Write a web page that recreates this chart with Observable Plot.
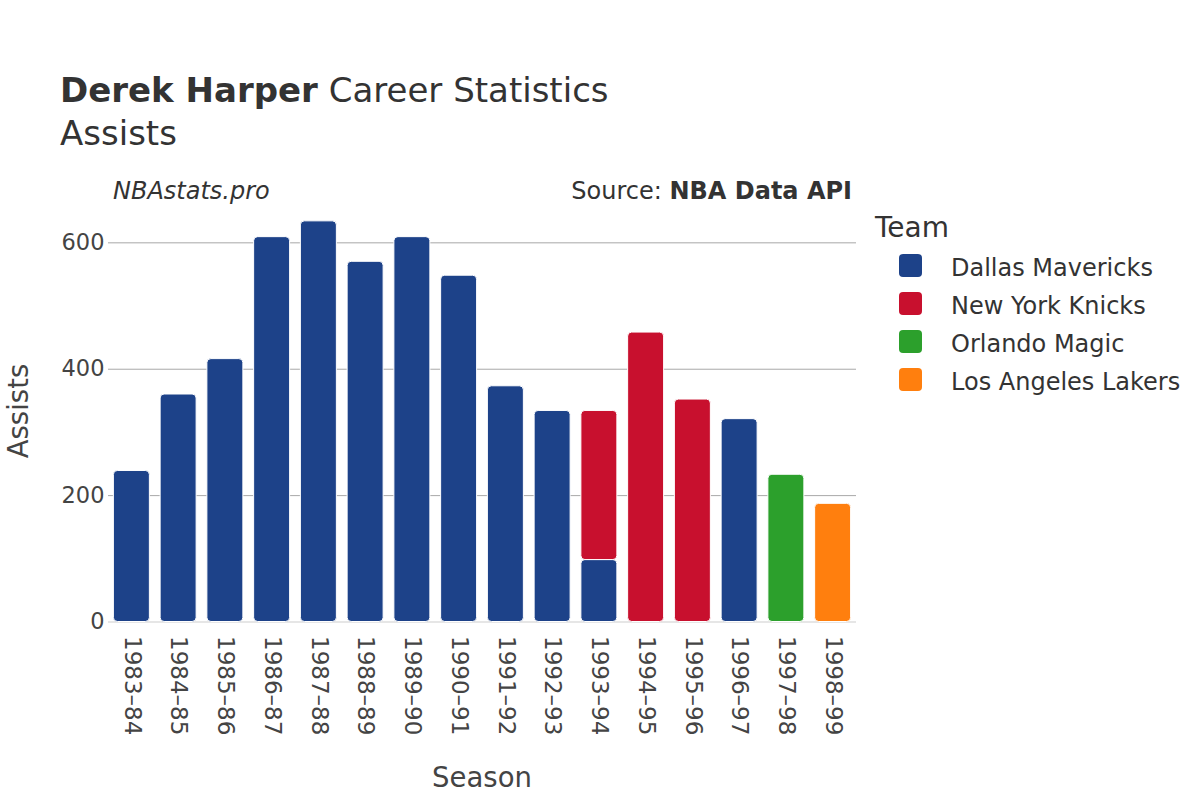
<!DOCTYPE html>
<html>
<head>
<meta charset="utf-8">
<script src="https://cdn.jsdelivr.net/npm/d3@7"></script>
<script src="https://cdn.jsdelivr.net/npm/@observablehq/plot@0.6"></script>
<style>
  html, body { margin: 0; padding: 0; background: #fff; }
  #wrap { position: relative; width: 1200px; height: 800px; font-family: "DejaVu Sans", sans-serif; color: #333; overflow: hidden; }
  #wrap svg { position: absolute; left: 0; top: 0; }
  .abs { position: absolute; white-space: nowrap; line-height: normal; }
  .sw { position: absolute; width: 23px; height: 23px; border-radius: 4px; }
</style>
</head>
<body>
<div id="wrap">
  <div class="abs" style="left:60px; top:70px; font-size:34px; color:#333;"><b>Derek Harper</b> Career Statistics</div>
  <div class="abs" style="left:60px; top:112.5px; font-size:34px; color:#333;">Assists</div>
  <div class="abs" style="left:113px; top:177px; font-size:24px; font-style:italic; color:#333;">NBAstats.pro</div>
  <div class="abs" style="right:348px; top:177px; font-size:24px; color:#333;">Source: <b>NBA Data API</b></div>
  <div id="legend"></div>
</div>
<script>
const seasons = ["1983–84","1984–85","1985–86","1986–87","1987–88","1988–89","1989–90","1990–91","1991–92","1992–93","1993–94","1994–95","1995–96","1996–97","1997–98","1998–99"];
const teams = ["Dallas Mavericks","New York Knicks","Orlando Magic","Los Angeles Lakers"];
const teamColors = ["#1d4289","#c8102e","#2ca02c","#ff7f0e"];
const rowSeason = ["1983–84","1984–85","1985–86","1986–87","1987–88","1988–89","1989–90","1990–91","1991–92","1992–93","1993–94","1993–94","1994–95","1995–96","1996–97","1997–98","1998–99"];
const rowTeam = ["Dallas Mavericks","Dallas Mavericks","Dallas Mavericks","Dallas Mavericks","Dallas Mavericks","Dallas Mavericks","Dallas Mavericks","Dallas Mavericks","Dallas Mavericks","Dallas Mavericks","Dallas Mavericks","New York Knicks","New York Knicks","New York Knicks","Dallas Mavericks","Orlando Magic","Los Angeles Lakers"];
const rowAssists = [239,360,416,609,634,570,609,548,373,334,98,236,458,352,321,233,187];
const yTicks = [0,200,400,600];

const data = rowSeason.map((s, i) => ({season: s, team: rowTeam[i], assists: rowAssists[i]}));

const chart = Plot.plot({
  width: 1200,
  height: 800,
  marginLeft: 108,
  marginRight: 344,
  marginTop: 200,
  marginBottom: 178.5,
  style: {fontFamily: "DejaVu Sans, sans-serif", fontSize: "22px", color: "#444", background: "transparent"},
  x: {domain: seasons, paddingInner: 0.23, paddingOuter: 0.115, round: false, label: null},
  y: {domain: [0, 667], label: null},
  color: {domain: teams, range: teamColors},
  marks: [
    Plot.ruleY(yTicks.filter(d => d > 0), {stroke: "#a8a8a8", strokeWidth: 1}),
    Plot.ruleY([0], {stroke: "#e6e6e6", strokeWidth: 2}),
    Plot.rectY(data, Plot.stackY({x: "season", y: "assists", fill: "team", stroke: "white", strokeWidth: 1, rx: 4})),
    Plot.axisX({tickSize: 0, tickPadding: 14, tickRotate: 90, fontSize: 23, label: null}),
    Plot.axisY({ticks: yTicks, tickSize: 0, tickPadding: 4, fontSize: 22.5, label: null})
  ]
});
document.getElementById("wrap").appendChild(chart);

// Axis titles
const wrap = document.getElementById("wrap");
const yl = document.createElement("div");
yl.className = "abs";
yl.style.cssText = "left:18px; top:410.5px; font-size:27.5px; color:#444; transform: translate(-50%,-50%) rotate(-90deg); transform-origin: center;";
yl.textContent = "Assists";
wrap.appendChild(yl);
const xl = document.createElement("div");
xl.className = "abs";
xl.style.cssText = "left:482px; top:761px; font-size:27.5px; color:#444; transform: translateX(-50%);";
xl.textContent = "Season";
wrap.appendChild(xl);

// Legend
const lg = document.getElementById("legend");
const t = document.createElement("div");
t.className = "abs";
t.style.cssText = "left:875px; top:211px; font-size:28px; color:#333;";
t.textContent = "Team";
lg.appendChild(t);
teams.forEach((name, i) => {
  const cy = 265 + i * 38.3;
  const sw = document.createElement("div");
  sw.className = "sw";
  sw.style.left = "899px";
  sw.style.top = (cy - 11.5) + "px";
  sw.style.background = teamColors[i];
  lg.appendChild(sw);
  const lab = document.createElement("div");
  lab.className = "abs";
  lab.style.cssText = `left:951px; top:${cy - 11.5}px; font-size:24px; color:#333;`;
  lab.textContent = name;
  lg.appendChild(lab);
});
</script>
</body>
</html>
